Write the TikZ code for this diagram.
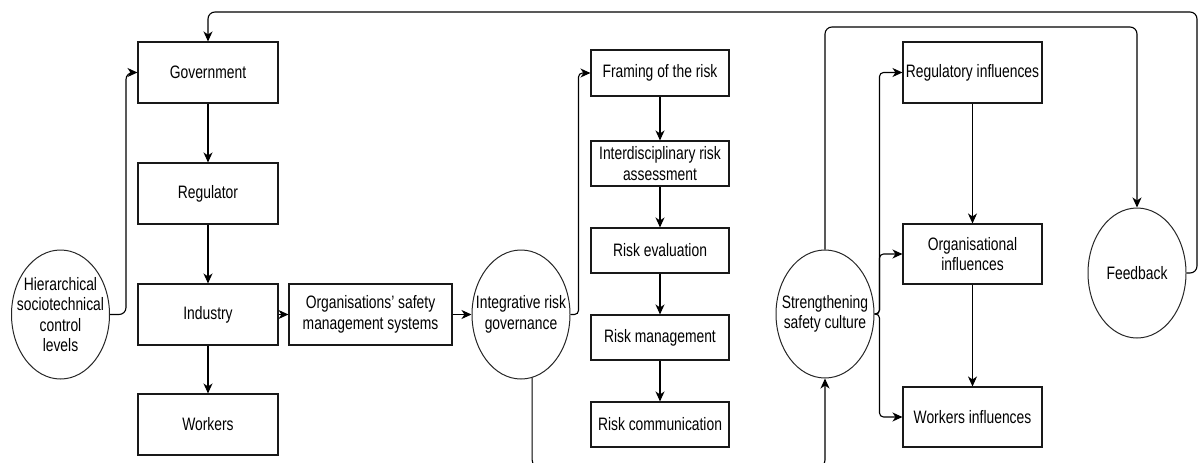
\documentclass[tikz,border=0pt]{standalone}
\usepackage{fontspec}
\setmainfont{Liberation Sans}[FakeStretch=0.77]
\usetikzlibrary{arrows.meta,shapes.geometric}

\begin{document}
\begin{tikzpicture}[x=1pt,y=-1pt,
  font=\fontsize{18}{20.5}\selectfont,
  box/.style={draw=black!90, line width=1.1pt, rectangle, inner sep=0pt,
    align=center, text=black},
  wide/.style={minimum width=140pt, minimum height=61pt},
  slim/.style={minimum width=138pt, minimum height=45pt},
  oval/.style={draw=black!85, line width=1pt, ellipse, inner sep=0pt,
    minimum width=98pt, minimum height=129pt},
  lbl/.style={align=center, text=black},
  conn/.style={draw=black, line width=1.1pt, rounded corners=7pt,
    -{Stealth[length=10pt,width=9pt,inset=3pt]}},
  tight/.style={rounded corners=4pt}]

\useasboundingbox (0,0) rectangle (1200,463);
\clip (0,0) rectangle (1200,463);

% sociotechnical hierarchy
\node[oval, label={[lbl]center:Hierarchical\\sociotechnical\\control\\levels}] (hier) at (60.5,314.5) {};
\node[box, wide] (gov) at (208,72.5) {Government};
\node[box, wide] (reg) at (208,193.5) {Regulator};
\node[box, wide] (ind) at (208,314.5) {Industry};
\node[box, wide] (wrk) at (208,424.5) {Workers};
\node[box, minimum width=163pt, minimum height=61pt] (osms) at (370.5,314.5)
  {Organisations' safety\\management systems};

% risk governance chain
\node[oval, label={[lbl]center:Integrative risk\\governance}] (irg) at (521,314.5) {};
\node[box, slim, minimum height=46pt] (frm) at (660,73) {Framing of the risk};
\node[box, slim] (ira) at (660,163.5) {Interdisciplinary risk\\assessment};
\node[box, slim] (rev) at (660,250.5) {Risk evaluation};
\node[box, slim] (rman) at (660,337.5) {Risk management};
\node[box, slim] (rcom) at (660,424.5) {Risk communication};

% safety culture
\node[oval, minimum height=128pt, label={[lbl]center:Strengthening\\safety culture}] (ssc) at (825,314) {};
\node[box, minimum width=139pt, minimum height=61pt] (regi) at (972.5,72.5) {Regulatory influences};
\node[box, minimum width=139pt, minimum height=60pt] (orgi) at (972.5,254) {Organisational\\influences};
\node[box, minimum width=139pt, minimum height=60pt] (wki) at (972.5,417) {Workers influences};
\node[oval, minimum height=130pt, label={[lbl]center:Feedback}] (fb) at (1137,273) {};

% helper points for the routed loops
\coordinate (topRight) at (1197,12);
\coordinate (bottomRun) at (0,467);
\coordinate (fbRun) at (0,27);

% vertical chains
\draw[conn] (gov) -- (reg);
\draw[conn] (reg) -- (ind);
\draw[conn] (ind) -- (wrk);
\draw[conn] (frm) -- (ira);
\draw[conn] (ira) -- (rev);
\draw[conn] (rev) -- (rman);
\draw[conn] (rman) -- (rcom);
\draw[conn] (regi) -- (orgi);
\draw[conn] (orgi) -- (wki);

% horizontal flow
\draw[conn] (hier.east) -- ++(16,0) |- (gov.west);
\draw[conn] (ind.east) -- (osms.west);
\draw[conn] (osms.east) -- (irg.west);
\draw[conn, tight] (irg.east) -- ++(8,0) |- (frm.west);
\draw[conn] (irg.-80) -- (irg.-80 |- bottomRun) -| (ssc.south);
\draw[conn, tight] (ssc.east) -- ++(5,0) |- (regi.west);
\draw[conn, tight] (ssc.east) -- ++(5,0) |- (orgi.west);
\draw[conn, tight] (ssc.east) -- ++(5,0) |- (wki.west);
\draw[conn] (ssc.north) |- (fb.north |- fbRun) -- (fb.north);

% feedback loop back to the top of the hierarchy
\draw[conn] (fb.east) -| (topRight) -- (gov.north |- topRight) -- (gov.north);

\end{tikzpicture}
\end{document}
